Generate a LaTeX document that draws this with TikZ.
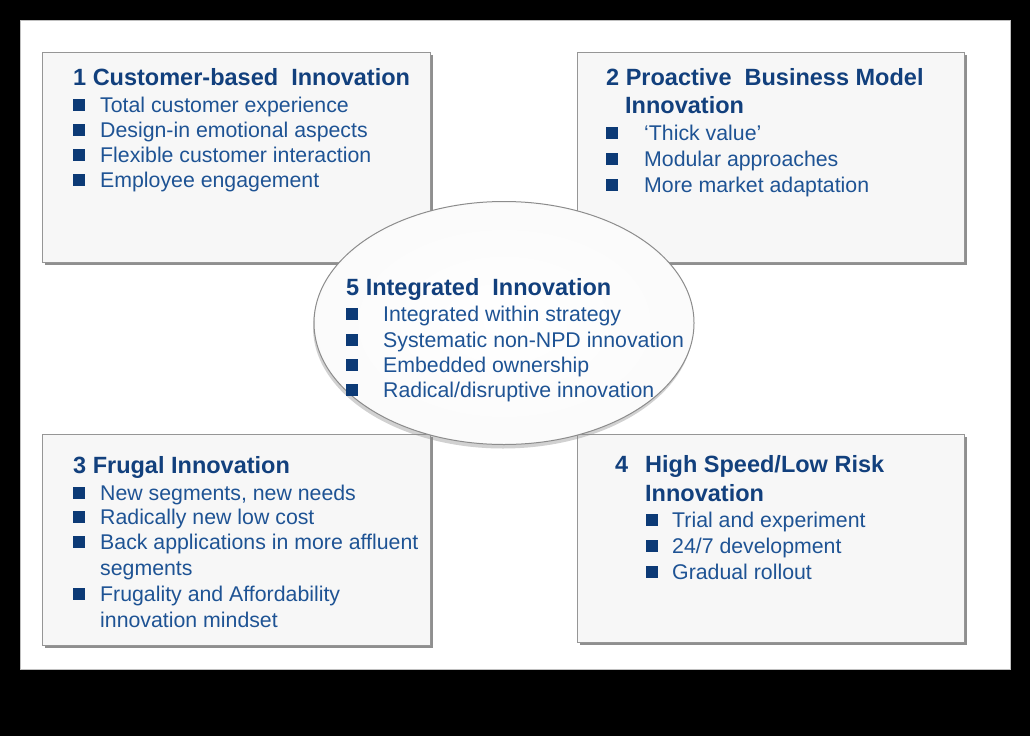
\documentclass[tikz,border=0pt]{standalone}
\usepackage{fontspec}
\setmainfont{Liberation Sans}
\usetikzlibrary{shadows,shapes.geometric}
\definecolor{titleblue}{RGB}{18,64,125}
\definecolor{textblue}{RGB}{30,83,148}
\definecolor{bulletblue}{RGB}{12,58,118}
\definecolor{boxfill}{RGB}{247,247,247}
\definecolor{boxline}{RGB}{150,150,150}
\definecolor{ellline}{RGB}{140,140,140}
\pgfdeclareradialshading{ellshade}{\pgfpoint{0bp}{0bp}}{color(0bp)=(white); color(28bp)=(white!98!black); color(42bp)=(white!94!black); color(50bp)=(white!86!black)}
\newcommand\myitem[2]{\makebox[#1][l]{\textcolor{bulletblue}{\raisebox{1.5pt}{\rule{12pt}{12pt}}}}#2}
\tikzset{
  panel/.style={draw=boxline, line width=1pt, fill=boxfill, inner sep=0pt,
    drop shadow={shadow xshift=2.5pt, shadow yshift=-2.5pt, fill=black!55, opacity=0.8}},
  centreell/.style={ellipse, draw=ellline, line width=1pt, inner sep=0pt,
    shading=ellshade,
    drop shadow={shadow xshift=-1pt, shadow yshift=-4pt, fill=black!45, opacity=0.4}},
  ttl/.style={anchor=base west, inner sep=0pt, text=titleblue,
    font=\fontsize{23.5}{28}\selectfont\bfseries},
  txt/.style={anchor=base west, inner sep=0pt, text=textblue,
    font=\fontsize{21.3}{25}\selectfont},
}
\begin{document}
\begin{tikzpicture}[x=1pt,y=-1pt]
\useasboundingbox[fill=black] (0,0) rectangle (1030,736);
\node[draw=black!25, fill=white, line width=0.8pt, minimum width=990pt, minimum height=649pt, inner sep=0pt] (sheet) at (515,345) {};

% boxes
\node[panel, minimum width=388pt, minimum height=210pt] (b1) at (236,157) {};
\node[panel, minimum width=387pt, minimum height=210pt] (b2) at (770.5,157) {};
\node[panel, minimum width=388pt, minimum height=211pt] (b3) at (236,539.5) {};
\node[panel, minimum width=387pt, minimum height=208pt] (b4) at (770.5,538) {};

% box 1
\node[ttl] (t1) at (73,85) {1 Customer-based\ \ Innovation};
\node[txt] (t1a) at (73,112) {\myitem{27pt}{Total customer experience}};
\node[txt] (t1b) at (73,137) {\myitem{27pt}{Design-in emotional aspects}};
\node[txt] (t1c) at (73,162) {\myitem{27pt}{Flexible customer interaction}};
\node[txt] (t1d) at (73,187) {\myitem{27pt}{Employee engagement}};

% box 2
\node[ttl] (t2) at (606,85) {2 Proactive\ \ Business Model};
\node[ttl] (t2x) at (625,113) {Innovation};
\node[txt] (t2a) at (606,140) {\myitem{38pt}{‘Thick value’}};
\node[txt] (t2b) at (606,166) {\myitem{38pt}{Modular approaches}};
\node[txt] (t2c) at (606,192) {\myitem{38pt}{More market adaptation}};

% box 3
\node[ttl] (t3) at (73,473) {3 Frugal Innovation};
\node[txt] (t3a) at (73,500) {\myitem{27pt}{New segments, new needs}};
\node[txt] (t3b) at (73,524) {\myitem{27pt}{Radically new low cost}};
\node[txt] (t3c) at (73,549) {\myitem{27pt}{Back applications in more affluent}};
\node[txt] (t3d) at (100,575) {segments};
\node[txt] (t3e) at (73,601) {\myitem{27pt}{Frugality and Affordability}};
\node[txt] (t3f) at (100,627) {innovation mindset};

% box 4
\node[ttl] (t4) at (615,472) {\makebox[30pt][l]{4}High Speed/Low Risk};
\node[ttl] (t4x) at (645,501) {Innovation};
\node[txt] (t4a) at (646,527) {\myitem{26pt}{Trial and experiment}};
\node[txt] (t4b) at (646,553) {\myitem{26pt}{24/7 development}};
\node[txt] (t4c) at (646,579) {\myitem{26pt}{Gradual rollout}};

% centre ellipse
\node[centreell, minimum width=380pt, minimum height=243pt] (e5) at (504,323) {};
\node[ttl] (t5) at (346,295) {5 Integrated\ \ Innovation};
\node[txt] (t5a) at (346,321) {\myitem{37pt}{Integrated within strategy}};
\node[txt] (t5b) at (346,347) {\myitem{37pt}{Systematic non-NPD innovation}};
\node[txt] (t5c) at (346,372) {\myitem{37pt}{Embedded ownership}};
\node[txt] (t5d) at (346,397) {\myitem{37pt}{Radical/disruptive innovation}};
\end{tikzpicture}
\end{document}
